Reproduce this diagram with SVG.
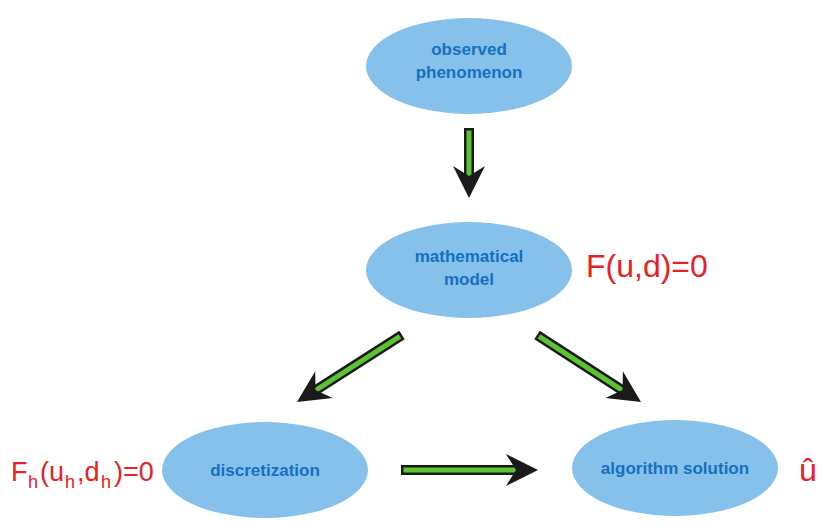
<svg xmlns="http://www.w3.org/2000/svg" width="826" height="524" viewBox="0 0 826 524">
<style>
.node{fill:#86c1eb}
.lbl{font-family:"Liberation Sans",Arial,sans-serif;font-weight:bold;font-size:17px;fill:#1570c2;text-anchor:middle}
.hw{font-family:"Liberation Sans",Arial,sans-serif;font-size:27px;fill:#e62229}
.hwl{font-family:"Liberation Sans",Arial,sans-serif;font-size:32px;fill:#e62229}
.hws{font-family:"Liberation Sans",Arial,sans-serif;font-size:18px;fill:#e62229}
.sh-o{stroke:#1a1a1a;stroke-width:10;fill:none}
.sh-i{stroke:#5cc331;stroke-width:5;fill:none}
.head{fill:#1a1a1a}
</style>
<defs>
<path id="ah" d="M0,0 L-32,-16 L-22,0 L-32,16 Z"/>
</defs>
<rect width="826" height="524" fill="#ffffff"/>
<g id="connectors">
<g id="e1">
<line class="sh-o" x1="469" y1="128" x2="469" y2="182"/>
<line class="sh-i" x1="469" y1="130.5" x2="469" y2="184"/>
<use href="#ah" class="head" transform="translate(469,198) rotate(90)"/>
</g>
<g id="e2">
<line class="sh-o" x1="402" y1="335" x2="316" y2="390"/>
<line class="sh-i" x1="400" y1="336.3" x2="314" y2="391.3"/>
<use href="#ah" class="head" transform="translate(297,402) rotate(147.2)"/>
</g>
<g id="e3">
<line class="sh-o" x1="537" y1="335" x2="622" y2="390"/>
<line class="sh-i" x1="539" y1="336.3" x2="624" y2="391.3"/>
<use href="#ah" class="head" transform="translate(641,402) rotate(33)"/>
</g>
<g id="e4">
<line class="sh-o" x1="401" y1="470" x2="520" y2="470"/>
<line class="sh-i" x1="403.5" y1="470" x2="522" y2="470"/>
<use href="#ah" class="head" transform="translate(538,470)"/>
</g>
</g>
<g id="n1">
<ellipse class="node" cx="469" cy="66" rx="103" ry="48"/>
<text class="lbl" x="469" y="55">observed</text>
<text class="lbl" x="469" y="78">phenomenon</text>
</g>
<g id="n2">
<ellipse class="node" cx="469" cy="270" rx="103" ry="48"/>
<text class="lbl" x="469" y="262">mathematical</text>
<text class="lbl" x="469" y="285">model</text>
</g>
<g id="n3">
<ellipse class="node" cx="265" cy="470" rx="103" ry="48"/>
<text class="lbl" x="265" y="476">discretization</text>
</g>
<g id="n4">
<ellipse class="node" cx="675" cy="468" rx="103" ry="48"/>
<text class="lbl" x="675" y="474">algorithm solution</text>
</g>
<g id="annotations">
<text class="hwl" x="586" y="277">F(u,d)=0</text>
<text class="hw" x="11" y="481">F</text>
<text class="hws" x="28" y="488">h</text>
<text class="hw" x="40" y="481">(u</text>
<text class="hws" x="65" y="488">h</text>
<text class="hw" x="77" y="481">,d</text>
<text class="hws" x="101" y="488">h</text>
<text class="hw" x="114" y="481">)=0</text>
<text class="hwl" x="799" y="481">û</text>
</g>
</svg>
